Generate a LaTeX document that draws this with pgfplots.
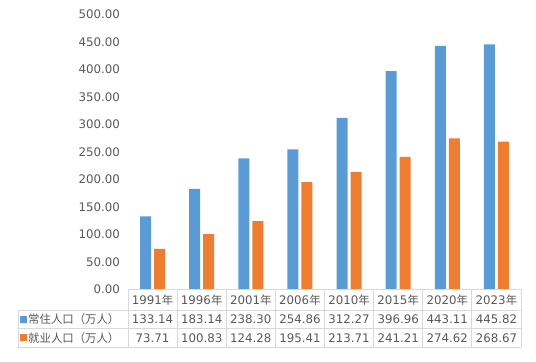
\documentclass[border=0pt]{standalone}
\usepackage{fontspec}
\setmainfont{DejaVu Sans}
\newfontfamily\cjk{Noto Sans CJK SC}
\usepackage{pgfplots}
\pgfplotsset{compat=1.18}
\definecolor{cblue}{HTML}{5B9BD5}
\definecolor{corange}{HTML}{ED7D31}
\definecolor{ctext}{HTML}{595959}
\definecolor{cgrid}{HTML}{D9D9D9}
\begin{document}
\begin{tikzpicture}[x=1pt,y=1pt]
\path[use as bounding box] (0,0) rectangle (536,-363);
\begin{axis}[
 at={(128pt,-289.5pt)}, anchor=south west,
 scale only axis, width=393pt, height=275pt,
 xmin=-0.5, xmax=7.5, ymin=0, ymax=500,
 ytick={0,50,...,500},
 xtick=\empty,
 ybar=3pt, bar width=11pt,
 axis line style={draw=none},
 major tick length=0pt,
 /pgf/number format/.cd, fixed, fixed zerofill, precision=2, assume math mode=true, 1000 sep={},
 /pgfplots/.cd,
 yticklabel style={font=\fontsize{11.8}{12}\selectfont, text=ctext, inner sep=0pt, xshift=-8pt},
]
\addplot[fill=cblue, draw=none] coordinates {(0,133.14) (1,183.14) (2,238.30) (3,254.86) (4,312.27) (5,396.96) (6,443.11) (7,445.82)};
\addplot[fill=corange, draw=none] coordinates {(0,73.71) (1,100.83) (2,124.28) (3,195.41) (4,213.71) (5,241.21) (6,274.62) (7,268.67)};
\end{axis}
% data table
\begin{scope}[cgrid, line width=0.8pt]
\draw (128,-289.5) -- (521,-289.5);
\draw (18,-310) -- (521,-310);
\draw (18,-328.5) -- (521,-328.5);
\draw (18,-347) -- (521,-347);
\draw (18,-310) -- (18,-347);
\foreach \i in {0,...,8} {\draw (128+\i*49.125,-289.5) -- (128+\i*49.125,-347);}
\draw[line width=0.6pt] (0,-362.5) -- (536,-362.5);
\end{scope}
\begin{scope}[every node/.style={text=ctext, font=\fontsize{11.8}{12}\selectfont, inner sep=0pt}]
\foreach \y [count=\i from 0] in {1991,1996,2001,2006,2010,2015,2020,2023}
  {\node at (152.56+\i*49.125,-300) {\y{\cjk\fontsize{11.4}{12}\selectfont 年}};}
\foreach \v [count=\i from 0] in {133.14,183.14,238.30,254.86,312.27,396.96,443.11,445.82}
  {\node at (152.56+\i*49.125,-319.5) {\v};}
\foreach \v [count=\i from 0] in {73.71,100.83,124.28,195.41,213.71,241.21,274.62,268.67}
  {\node at (152.56+\i*49.125,-338) {\v};}
\fill[cblue] (19.5,-316) rectangle (26.5,-323);
\fill[corange] (19.5,-334.5) rectangle (26.5,-341.5);
\node[anchor=west, font=\cjk\fontsize{11.4}{12}\selectfont] at (28,-319.5) {常住人口（万人）};
\node[anchor=west, font=\cjk\fontsize{11.4}{12}\selectfont] at (28,-338) {就业人口（万人）};
\end{scope}
\end{tikzpicture}
\end{document}
